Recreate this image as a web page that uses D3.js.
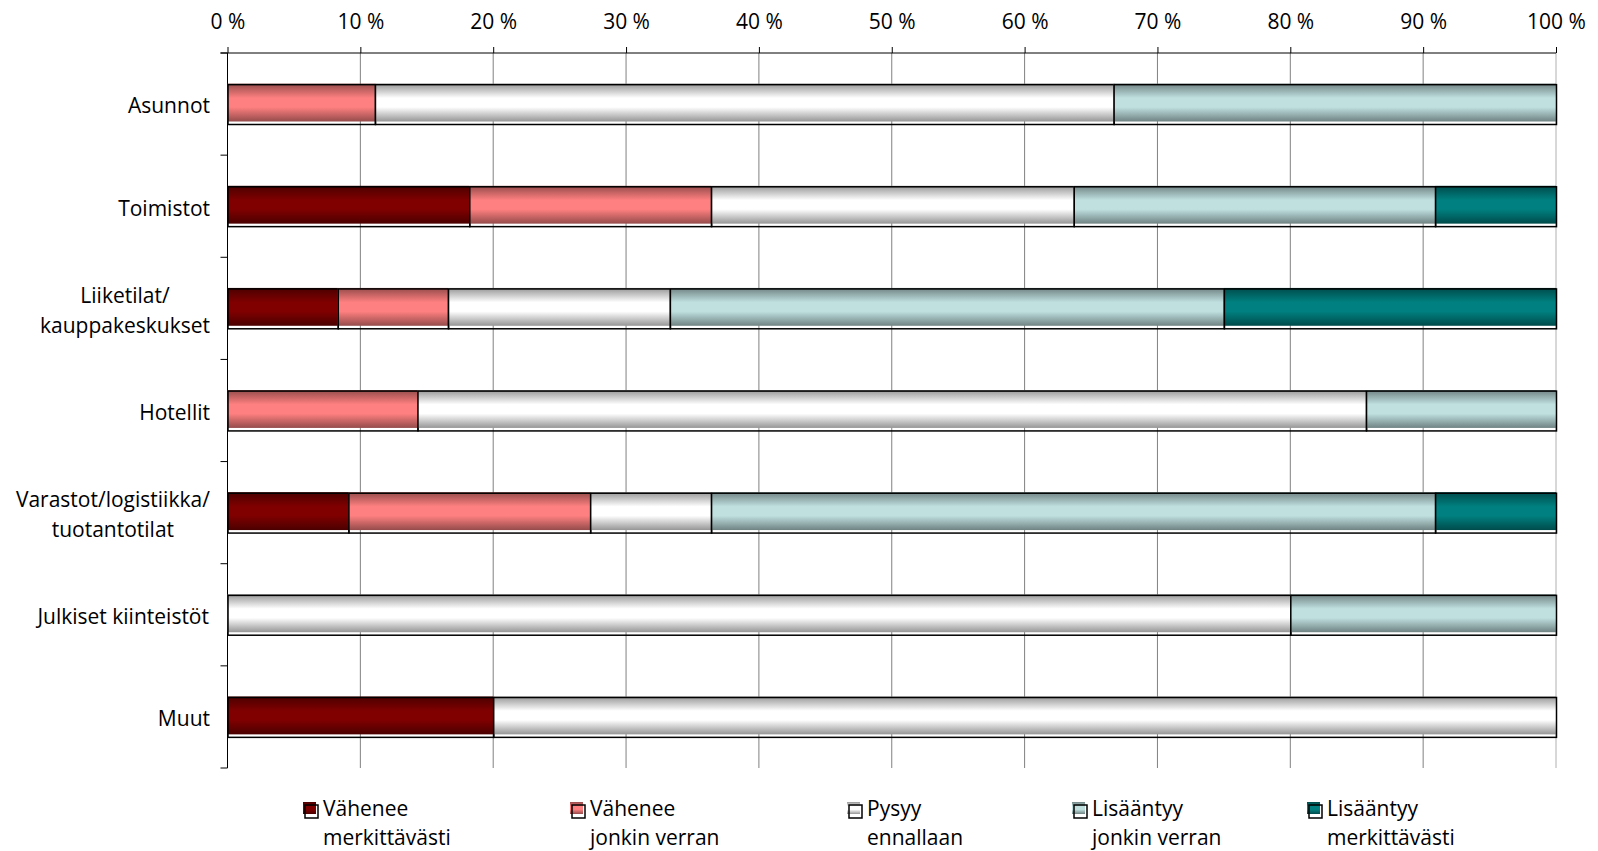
<!DOCTYPE html>
<html>
<head>
<meta charset="utf-8">
<script src="https://cdn.jsdelivr.net/npm/d3@7"></script>
<style>
  body { margin: 0; background: #fff; }
  text { font-family: "Open Sans", sans-serif; fill: #000; }
</style>
</head>
<body>
<svg id="chart" width="1598" height="851"></svg>
<script>
// categories (top to bottom), line breaks as in the original labels
var categories = ["Asunnot", "Toimistot", "Liiketilat/\nkauppakeskukset", "Hotellit",
                  "Varastot/logistiikka/\ntuotantotilat", "Julkiset kiinteistöt", "Muut"];

// shares in percent
var vaheneeMerk     = [0,    18.2, 8.3,  0,    9.1,  0,  20];
var vaheneeJonkin   = [11.1, 18.2, 8.3,  14.3, 18.2, 0,  0];
var pysyy           = [55.6, 27.3, 16.7, 71.4, 9.1,  80, 80];
var lisaantyyJonkin = [33.3, 27.2, 41.7, 14.3, 54.5, 20, 0];
var lisaantyyMerk   = [0,    9.1,  25,   0,    9.1,  0,  0];

var seriesNames = ["Vähenee\nmerkittävästi", "Vähenee\njonkin verran", "Pysyy\nennallaan",
                   "Lisääntyy\njonkin verran", "Lisääntyy\nmerkittävästi"];
var seriesColors = ["#800000", "#ff8080", "#ffffff", "#c0e0e0", "#008080"];
var xTicks = [0, 10, 20, 30, 40, 50, 60, 70, 80, 90, 100];

var seriesKeys = ["s0", "s1", "s2", "s3", "s4"];
var table = categories.map(function(c, i) {
    return {cat: c, s0: vaheneeMerk[i], s1: vaheneeJonkin[i], s2: pysyy[i],
            s3: lisaantyyJonkin[i], s4: lisaantyyMerk[i]};
});

var plotLeft = 227.5, plotRight = 1556, plotTop = 53, plotBottom = 768;

var svg = d3.select("#chart");

var x = d3.scaleLinear().domain([0, 100]).range([plotLeft, plotRight]);
var y = d3.scaleBand().domain(categories).range([plotTop, plotBottom])
    .paddingInner(0.6).paddingOuter(0.3);

// gradients: dark edges, bright middle
var defs = svg.append("defs");
seriesColors.forEach(function(c, i) {
    var edge = c == "#ffffff" ? "#969696" : d3.rgb(c).darker(1.5).formatHex();
    var g = defs.append("linearGradient").attr("id", "grad" + i)
        .attr("x1", 0).attr("y1", 0).attr("x2", 0).attr("y2", 1);
    g.append("stop").attr("offset", "0%").attr("stop-color", edge);
    g.append("stop").attr("offset", "38%").attr("stop-color", c);
    g.append("stop").attr("offset", "62%").attr("stop-color", c);
    g.append("stop").attr("offset", "100%").attr("stop-color", edge);
});

// vertical gridlines
svg.append("g").selectAll("line")
    .data(xTicks.slice(1))
    .enter().append("line")
    .attr("x1", function(d) { return x(d); })
    .attr("x2", function(d) { return x(d); })
    .attr("y1", plotTop).attr("y2", plotBottom)
    .attr("stroke", function(d) { return d == 100 ? "#b0b0b0" : "#808080"; })
    .attr("stroke-width", 1);

// top axis
var xAxis = d3.axisTop(x).tickValues(xTicks).tickSize(6).tickPadding(18)
    .tickFormat(function(d) { return d + " %"; });
var gx = svg.append("g").attr("transform", "translate(0," + plotTop + ")").call(xAxis);
gx.select(".domain").remove();
gx.selectAll(".tick line").attr("stroke", "#000");
gx.selectAll(".tick text").attr("font-size", 21).attr("font-family", "Open Sans").attr("fill", "#000");
svg.append("line").attr("x1", plotLeft - 7).attr("x2", plotRight).attr("y1", plotTop).attr("y2", plotTop)
    .attr("stroke", "#000");

// left axis line and ticks at band boundaries
svg.append("line").attr("x1", plotLeft).attr("x2", plotLeft).attr("y1", plotTop).attr("y2", plotBottom)
    .attr("stroke", "#000");
var bounds = d3.range(categories.length + 1).map(function(k) {
    return plotTop + k * (plotBottom - plotTop) / categories.length;
});
svg.append("g").selectAll("line").data(bounds).enter().append("line")
    .attr("x1", plotLeft - 7).attr("x2", plotLeft)
    .attr("y1", function(d) { return d; }).attr("y2", function(d) { return d; })
    .attr("stroke", "#000");

// category labels: lines centred on each other, block ends at x=210
var labelG = svg.append("g").selectAll("text").data(categories).enter().append("text")
    .attr("font-size", 21)
    .attr("text-anchor", "middle");
labelG.each(function(d) {
    var lines = d.split("\n");
    var t = d3.select(this);
    var cy = y(d) + y.bandwidth() / 2 + 2;
    lines.forEach(function(l, j) {
        t.append("tspan").text(l)
            .attr("x", 0)
            .attr("y", cy + (j - (lines.length - 1) / 2) * 30)
            .attr("dy", "0.35em");
    });
    var w = this.getBBox().width;
    t.selectAll("tspan").attr("x", 210 - w / 2);
});

// stacked bars
var stack = d3.stack().keys(seriesKeys);
var layers = stack(table);

var layerG = svg.append("g").selectAll("g").data(layers).enter().append("g");
var segs = layerG.selectAll("g")
    .data(function(d) {
        return d.map(function(p) { return {key: d.key, idx: d.index, x0: p[0], x1: p[1], cat: p.data.cat}; })
            .filter(function(p) { return p.x1 - p.x0 > 0; });
    })
    .enter().append("g");

segs.append("rect")
    .attr("x", function(d) { return x(d.x0); })
    .attr("y", function(d) { return y(d.cat); })
    .attr("width", function(d) { return x(d.x1) - x(d.x0); })
    .attr("height", y.bandwidth() - 3)
    .attr("fill", function(d) { return "url(#grad" + d.idx + ")"; });

segs.append("rect")
    .attr("x", function(d) { return x(d.x0) + 0.5; })
    .attr("y", function(d) { return y(d.cat) + 1; })
    .attr("width", function(d) { return x(d.x1) - x(d.x0); })
    .attr("height", y.bandwidth() - 1)
    .attr("fill", "none")
    .attr("stroke", "#000")
    .attr("stroke-width", 1.5);

// legend
var legendX = [303, 570, 847, 1072, 1307];
var leg = svg.append("g").selectAll("g").data(seriesNames).enter().append("g")
    .attr("transform", function(d, i) { return "translate(" + legendX[i] + ",802)"; });

leg.append("rect").attr("x", 0).attr("y", 0).attr("width", 13).attr("height", 12)
    .attr("fill", function(d, i) { return "url(#grad" + i + ")"; });
leg.append("rect").attr("x", 2).attr("y", 3).attr("width", 13).attr("height", 13)
    .attr("fill", "none").attr("stroke", "#000").attr("stroke-width", 1.5);

leg.each(function(d) {
    var t = d3.select(this).append("text").attr("font-size", 21);
    d.split("\n").forEach(function(l, j) {
        t.append("tspan").text(l).attr("x", 20).attr("y", 7 + j * 29).attr("dy", "0.35em");
    });
});
</script>
</body>
</html>
